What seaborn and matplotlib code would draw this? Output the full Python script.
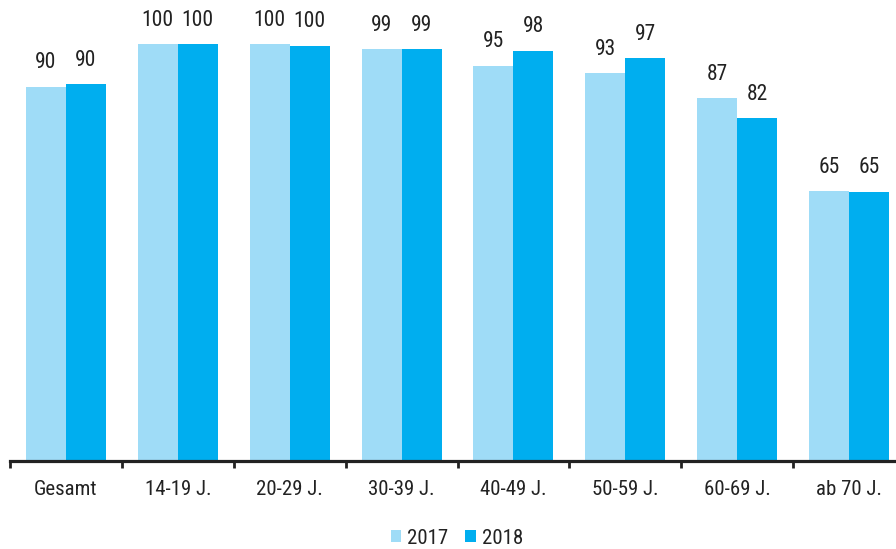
import matplotlib
matplotlib.use("Agg")
import matplotlib.pyplot as plt
from matplotlib import font_manager as fm
from matplotlib.patches import Patch
import seaborn as sns
import pandas as pd
import numpy as np

# ---- Daten ----
categories = ["Gesamt", "14-19 J.", "20-29 J.", "30-39 J.", "40-49 J.",
              "50-59 J.", "60-69 J.", "ab 70 J."]
years = ["2017", "2018"]
values_2017 = [89.8, 100.0, 100.0, 98.8, 94.8, 93.0, 87.1, 64.8]
values_2018 = [90.3, 100.0, 99.6, 98.8, 98.4, 96.6, 82.3, 64.6]

colors = {"2017": "#9FDCF7", "2018": "#00AEEF"}
text_color = "#222222"

df = pd.DataFrame({
    "Kategorie": categories * 2,
    "Jahr": ["2017"] * len(categories) + ["2018"] * len(categories),
    "Wert": values_2017 + values_2018,
})

sns.set_theme(style="white")
# schmale Schrift, falls vorhanden
available = {f.name for f in fm.fontManager.ttflist}
preferred = ["Roboto Condensed", "Liberation Sans Narrow", "Liberation Sans"]
family = [f for f in preferred if f in available][:1] + ["DejaVu Sans"]
plt.rcParams["font.family"] = family

fig = plt.figure(figsize=(8.96, 5.49), dpi=100)
W, H = 896, 549
# Achse: links 10 px, Basislinie bei y=461 px
ax = fig.add_axes([10 / W, 88 / H, 895 / W, 461 / H])

sns.barplot(data=df, x="Kategorie", y="Wert", hue="Jahr", hue_order=years,
            palette=colors, width=0.714, gap=0, saturation=1, linewidth=0,
            legend=False, ax=ax)

for container in ax.containers:
    ax.bar_label(container, fmt="%.0f", padding=9.5, fontsize=15.5, color=text_color)

ax.set_xlim(-0.5, len(categories) - 0.5)
ax.set_ylim(0, 461 / 4.17)
ax.set_xlabel("")
ax.set_ylabel("")
ax.set_yticks([])

for s in ["top", "right", "left"]:
    ax.spines[s].set_visible(False)
ax.spines["bottom"].set_linewidth(2.3)
ax.spines["bottom"].set_color(text_color)

# Kategorienbeschriftung ohne Striche, Striche an Gruppengrenzen
ax.set_xticks(range(len(categories)))
ax.set_xticklabels(categories, fontsize=15, color=text_color)
ax.tick_params(axis="x", which="major", length=0, pad=14)
ax.set_xticks(np.arange(-0.5, len(categories), 1.0), minor=True)
ax.tick_params(axis="x", which="minor", bottom=True, length=5, width=2,
               color=text_color, direction="out")

handles = [Patch(facecolor=colors[y], edgecolor="none", label=y) for y in years]
fig.legend(handles=handles, loc="center", bbox_to_anchor=(457 / W, 1 - 538 / H),
           ncol=2, frameon=False, fontsize=15, handlelength=0.5, handleheight=0.5,
           handletextpad=0.3, columnspacing=0.8, labelcolor=text_color)

fig.savefig("out.png", dpi=100)
